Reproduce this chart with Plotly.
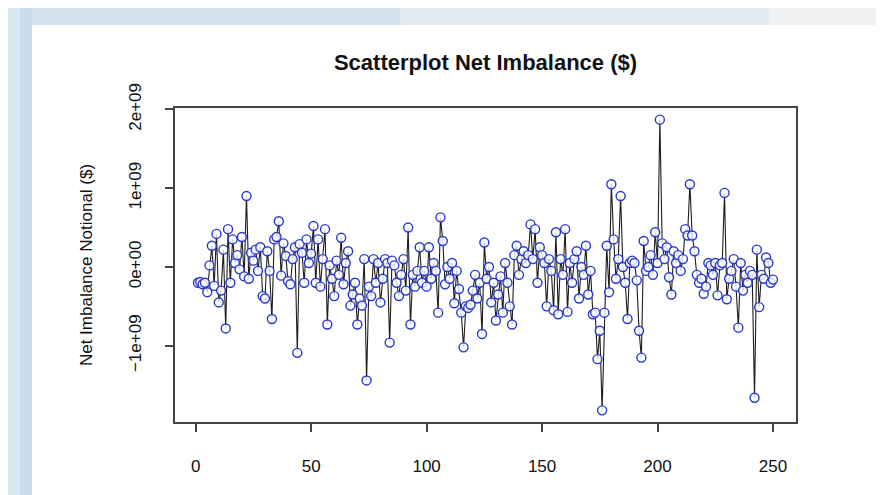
import plotly.graph_objects as go

# values, in units of 1e9 dollars (index 1..250)
values_bn = [
    -0.20, -0.19, -0.22, -0.20, -0.32, 0.02, 0.27, -0.24, 0.42, -0.45,
    -0.30, 0.22, -0.78, 0.48, -0.20, 0.35, 0.05, 0.15, -0.03, 0.38,
    -0.12, 0.90, -0.15, 0.18, 0.08, 0.22, -0.05, 0.25, -0.37, -0.40,
    0.20, -0.05, -0.66, 0.35, 0.38, 0.58, -0.11, 0.30, 0.14, -0.18,
    -0.22, 0.10, 0.25, -1.09, 0.29, 0.18, -0.20, 0.35, 0.05, 0.17,
    0.52, -0.20, 0.35, -0.25, 0.10, 0.48, -0.73, 0.02, -0.15, -0.37,
    0.08, -0.10, 0.37, -0.22, 0.05, 0.20, -0.49, -0.35, -0.20, -0.73,
    -0.40, -0.49, 0.10, -1.44, -0.25, -0.37, 0.10, -0.20, 0.05, -0.45,
    -0.15, 0.10, 0.05, -0.96, 0.08, 0.02, -0.20, -0.37, -0.10, 0.10,
    -0.30, 0.50, -0.73, -0.10, -0.25, -0.05, 0.25, -0.20, -0.05, -0.25,
    0.25, -0.15, 0.05, -0.05, -0.58, 0.63, 0.33, -0.22, 0.00, -0.15,
    0.05, -0.46, -0.05, -0.28, -0.58, -1.02, -0.50, -0.52, -0.48, -0.30,
    -0.10, -0.40, -0.20, -0.85, 0.31, -0.15, 0.00, -0.45, -0.20, -0.68,
    -0.35, -0.12, -0.58, 0.05, -0.20, -0.50, -0.73, 0.15, 0.27, -0.10,
    0.10, 0.20, 0.05, 0.15, 0.54, 0.10, 0.48, -0.20, 0.25, 0.15,
    0.05, -0.50, 0.10, -0.05, -0.55, 0.44, -0.60, 0.10, -0.10, 0.48,
    -0.57, 0.05, -0.20, 0.10, 0.20, -0.40, 0.00, -0.10, 0.27, -0.35,
    -0.05, -0.60, -0.58, -1.17, -0.81, -1.82, -0.58, 0.27, -0.32, 1.05,
    0.35, -0.15, 0.10, 0.90, 0.00, -0.20, -0.66, 0.05, 0.08, 0.05,
    -0.17, -0.81, -1.15, 0.33, -0.05, 0.00, 0.15, -0.10, 0.44, 0.05,
    1.87, 0.30, 0.10, 0.25, -0.13, -0.35, 0.20, 0.05, 0.15, -0.05,
    0.10, 0.48, 0.40, 1.05, 0.40, 0.20, -0.10, -0.20, -0.15, -0.34,
    -0.25, 0.05, 0.02, -0.10, 0.05, -0.36, 0.02, 0.05, 0.94, -0.41,
    -0.15, -0.05, 0.10, -0.25, -0.77, 0.05, -0.30, -0.10, -0.20, -0.05,
    -0.10, -1.66, 0.22, -0.51, -0.10, -0.15, 0.12, 0.05, -0.20, -0.16,
]
index = list(range(1, len(values_bn) + 1))
net_imbalance = [v * 1e9 for v in values_bn]

x_tickvals = [0, 50, 100, 150, 200, 250]
y_tickvals = [-1e9, 0, 1e9, 2e9]
y_ticktext = ["\u22121e+09", "0e+00", "1e+09", "2e+09"]

title_text = "Scatterplot Net Imbalance ($)"
ytitle_text = "Net Imbalance Notional ($)"

W, H = 884, 495
OFF = 8  # page body margin
ml, mr, mt, mb = 167, 96, 100, 81
pw, ph = W - ml - mr, H - mt - mb


def px_x(p):
    return (p - OFF - ml) / pw


def px_y(p):
    return (H - mb - (p - OFF)) / ph


# R-style 4% axis extension
xmin, xmax = min(index), max(index)
xr = (xmax - xmin) * 0.04
ymin, ymax = min(net_imbalance), max(net_imbalance)
yr = (ymax - ymin) * 0.04

fig = go.Figure()
fig.add_trace(go.Scatter(
    x=index, y=net_imbalance, mode="lines+markers",
    line=dict(color="#1e1e1e", width=1.1),
    marker=dict(symbol="circle", size=9, color="rgba(255,255,255,0.8)",
                line=dict(color="#2838cc", width=1.4)),
    showlegend=False, hoverinfo="x+y",
))

shapes = [
    dict(type="rect", xref="paper", yref="paper", x0=px_x(0), x1=px_x(32),
         y0=px_y(H + 20), y1=px_y(0), fillcolor="#c8dceb", line_width=0, layer="below"),
    dict(type="rect", xref="paper", yref="paper", x0=px_x(8), x1=px_x(20),
         y0=px_y(H + 20), y1=px_y(0), fillcolor="#d9e7f1", line_width=0, layer="below"),
    dict(type="rect", xref="paper", yref="paper", x0=px_x(32), x1=px_x(400),
         y0=px_y(25), y1=px_y(0), fillcolor="#d3e3ef", line_width=0, layer="below"),
    dict(type="rect", xref="paper", yref="paper", x0=px_x(400), x1=px_x(770),
         y0=px_y(25), y1=px_y(0), fillcolor="#e2ecf3", line_width=0, layer="below"),
    dict(type="rect", xref="paper", yref="paper", x0=px_x(770), x1=px_x(W + 20),
         y0=px_y(25), y1=px_y(0), fillcolor="#eff1f2", line_width=0, layer="below"),
]

fig.update_layout(
    width=W, height=H, autosize=False,
    margin=dict(l=ml, r=mr, t=mt, b=mb),
    paper_bgcolor="white", plot_bgcolor="white",
    font=dict(family="Liberation Sans, Arial, sans-serif", size=17, color="#111"),
    title=dict(text="<b>" + title_text + "</b>", x=(ml + pw / 2) / W, xanchor="center",
               y=1 - (62 - OFF) / H, yanchor="middle", font=dict(size=22, color="#111")),
    shapes=shapes,
)
fig.update_xaxes(
    range=[xmin - xr, xmax + xr], tickvals=x_tickvals,
    showgrid=False, zeroline=False, showline=True, mirror=True,
    linecolor="#444", linewidth=1.5, ticks="outside", ticklen=8,
    tickcolor="#444", tickwidth=1.5, ticklabelstandoff=20,
    tickfont=dict(size=17, color="#111"),
)
fig.update_yaxes(
    range=[ymin - yr, ymax + yr], tickvals=y_tickvals, ticktext=y_ticktext,
    tickangle=-90, showgrid=False, zeroline=False, showline=True, mirror=True,
    linecolor="#444", linewidth=1.5, ticks="outside", ticklen=8,
    tickcolor="#444", tickwidth=1.5, ticklabelstandoff=17,
    tickfont=dict(size=17, color="#111"),
    title=dict(text=ytitle_text, standoff=30, font=dict(size=17, color="#111")),
)

fig.write_html("out.html")
